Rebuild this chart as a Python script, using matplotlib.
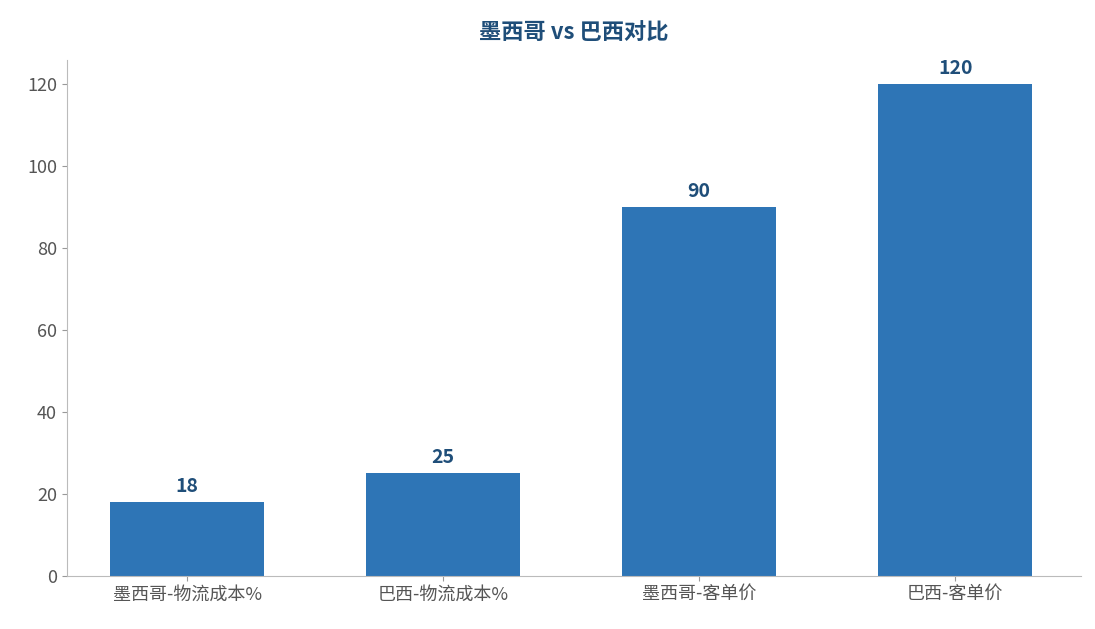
import matplotlib
matplotlib.use('Agg')
import matplotlib.pyplot as plt

plt.rcParams['font.family'] = ['Noto Sans CJK SC', 'DejaVu Sans']

categories = ['墨西哥-物流成本%', '巴西-物流成本%', '墨西哥-客单价', '巴西-客单价']
values = [18, 25, 90, 120]

fig, ax = plt.subplots(figsize=(10.95, 6.29), dpi=100)
fig.subplots_adjust(left=0.061, right=0.987, top=0.905, bottom=0.085)

bars = ax.bar(categories, values, width=0.6, color='#2E75B6')
for b, v in zip(bars, values):
    ax.text(b.get_x() + b.get_width() / 2, v + 1.5, str(v), ha='center', va='bottom',
            fontsize=14, fontweight='bold', color='#1F4E79')

ax.set_title('墨西哥 vs 巴西对比', fontsize=16, fontweight='bold', color='#1F4E79', pad=14)
ax.set_ylim(0, 126)
ax.set_xlim(-0.47, 3.49)
ax.spines['top'].set_visible(False)
ax.spines['right'].set_visible(False)
for s in ['left', 'bottom']:
    ax.spines[s].set_color('#BBBBBB')
ax.tick_params(colors='#555555', labelsize=13)
ax.tick_params(axis='both', color='#999999')

plt.savefig('out.png')
